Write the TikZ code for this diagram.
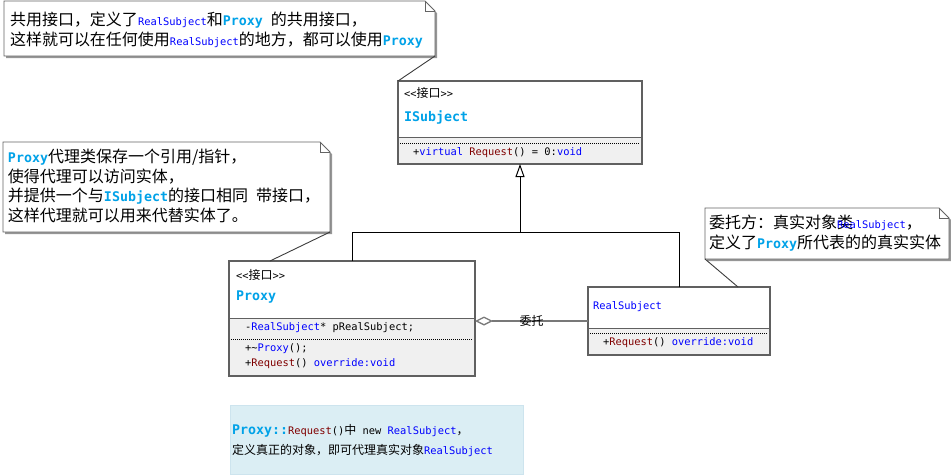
\documentclass[tikz,border=0pt]{standalone}
\usepackage{fontspec}
\setmainfont{Noto Sans CJK SC}
\setmonofont{DejaVu Sans Mono}
\usetikzlibrary{arrows.meta,fit}
\definecolor{cyanc}{RGB}{0,162,232}
\definecolor{bluec}{RGB}{0,0,255}
\definecolor{redc}{RGB}{128,0,0}
\definecolor{classgray}{RGB}{96,96,96}
\definecolor{compfill}{RGB}{240,240,240}
\definecolor{notegray}{RGB}{100,100,100}
\definecolor{shadowgray}{RGB}{150,150,150}
\definecolor{tailgray}{RGB}{60,60,60}
\definecolor{agggray}{RGB}{120,120,120}
\definecolor{infofill}{RGB}{219,238,244}
\definecolor{infoborder}{RGB}{205,228,238}
\newcommand\notesz{\fontsize{16}{20}\selectfont}
\newcommand\zhsz{\fontsize{12}{14}\selectfont}
\newcommand\codesz{\fontsize{10.4}{12}\selectfont\ttfamily}
\newcommand\cyb[1]{{\fontsize{13.3}{16}\selectfont\ttfamily\bfseries\color{cyanc}#1}}
\newcommand\rsb[1]{{\codesz\color{bluec}#1}}
\newcommand\stereo{{\codesz <<}{\zhsz 接口}{\codesz >>}}
\newcommand\drawnote[5]{%
  \fill[notesh] (#2+2,#3+2) -- (#4+2-10,#3+2) -- (#4+2,#3+12) -- (#4+2,#5+2) -- (#2+2,#5+2) -- cycle;
  \filldraw[notebd] (#2,#3) -- (#4-10,#3) -- (#4,#3+10) -- (#4,#5) -- (#2,#5) -- cycle;
  \draw[notebd,fill=none] (#4-10,#3) -- (#4-10,#3+10) -- (#4,#3+10);
  \node[fit={(#2,#3) (#4,#5)}, inner sep=0pt, outer sep=0pt] (#1) {};
}
\tikzset{
  txt/.style={anchor=west, inner sep=0pt, outer sep=0pt},
  notebd/.style={draw=notegray, fill=white, line width=0.9pt},
  notesh/.style={fill=shadowgray},
  classbd/.style={draw=classgray, line width=1.3pt, inner sep=0pt, outer sep=0pt},
  divline/.style={draw=classgray, line width=1pt},
  dotline/.style={draw=black, line width=0.8pt, dash pattern=on 1pt off 1pt},
  tail/.style={draw=tailgray, line width=0.9pt},
  inh/.style={draw=black, line width=1pt},
  agg/.style={draw=agggray, line width=1.3pt},
}
\begin{document}
\begin{tikzpicture}[x=1pt,y=-1pt]
\useasboundingbox (0,0) rectangle (951,475);

% ---------- notes ----------
\drawnote{n1}{4}{1}{435}{56}
\node[txt, font=\notesz] (n1a) at (10,20) {共用接口，定义了\rsb{RealSubject}和\cyb{Proxy }的共用接口，};
\node[txt, font=\notesz] (n1b) at (10,40) {这样就可以在任何使用\rsb{RealSubject}的地方，都可以使用\cyb{Proxy}};

\drawnote{n2}{3}{142}{330}{232}
\node[txt, font=\notesz] (n2a) at (8,157) {\cyb{Proxy}代理类保存一个引用/指针，};
\node[txt, font=\notesz] (n2b) at (8,176.5) {使得代理可以访问实体，};
\node[txt, font=\notesz] (n2c) at (8,196) {并提供一个与\cyb{ISubject}的接口相同\hspace{8pt}带接口，};
\node[txt, font=\notesz] (n2d) at (8,215.5) {这样代理就可以用来代替实体了。};

\drawnote{n3}{705}{208}{949}{259}
\node[txt, font=\notesz] (n3a) at (709,223) {委托方：真实对象\rlap{类}\rsb{RealSubject}，};
\node[txt, font=\notesz] (n3b) at (709,243) {定义了\cyb{Proxy}所代表的的真实实体};

% ---------- ISubject ----------
\fill[white] (398,81) rectangle (642,137);
\fill[compfill] (398,137) rectangle (642,164);
\draw[divline] (398,137) -- (642,137);
\draw[dotline] (400,143) -- (640,143);
\node[classbd, fit={(398,81) (642,164)}] (isub) {};
\node[txt] (isub1) at (404,93) {\stereo};
\node[txt] (isub2) at (404,117) {\cyb{ISubject}};
\node[txt] (isub3) at (413,153) {\codesz +\textcolor{bluec}{virtual} \textcolor{redc}{Request}() = 0:\textcolor{bluec}{void}};

% ---------- Proxy ----------
\fill[white] (229,261) rectangle (475,318);
\fill[compfill] (229,318) rectangle (475,376);
\draw[divline] (229,318) -- (475,318);
\draw[dotline] (231,339) -- (473,339);
\node[classbd, fit={(229,261) (475,376)}] (proxy) {};
\node[txt] (px1) at (236,275) {\stereo};
\node[txt] (px2) at (236,297) {\cyb{Proxy}};
\node[txt] (px3) at (245,328) {\codesz -\textcolor{bluec}{RealSubject}* pRealSubject;};
\node[txt] (px4) at (245,349) {\codesz +\textasciitilde\textcolor{bluec}{Proxy}();};
\node[txt] (px5) at (245,364) {\codesz +\textcolor{redc}{Request}() \textcolor{bluec}{override:void}};

% ---------- RealSubject ----------
\fill[white] (588,287) rectangle (770,328);
\fill[compfill] (588,328) rectangle (770,355);
\draw[divline] (588,328) -- (770,328);
\draw[dotline] (590,333) -- (768,333);
\node[classbd, fit={(588,287) (770,355)}] (real) {};
\node[txt] (rs1) at (593,307) {\rsb{RealSubject}};
\node[txt] (rs2) at (603,343) {\codesz +\textcolor{redc}{Request}() \textcolor{bluec}{override:void}};

% ---------- info box ----------
\node[fit={(230,405) (523,474)}, inner sep=0pt, fill=infofill, draw=infoborder, line width=0.8pt] (info) {};
\node[txt] (b1) at (232,431) {\cyb{Proxy::}{\codesz\color{redc}Request}{\codesz ()}{\zhsz 中}{\codesz\ new \color{bluec}RealSubject}{\zhsz ，}};
\node[txt] (b2) at (232,450) {{\zhsz 定义真正的对象，即可代理真实对象}\rsb{RealSubject}};

% ---------- connectors ----------
\coordinate (join) at (520,232);
\draw[inh] (proxy.north) |- (join);
\draw[inh] (real.north) |- (join);
\draw[inh, -{Triangle[open, length=13pt, width=9pt]}] (join) -- (isub.south);

\draw[agg, {Diamond[open, length=18pt, width=9pt]}-] (real.west -| proxy.east) -- (real.west)
  node[midway, font=\zhsz, inner sep=0pt] (lbl) {委托};

\coordinate (ptail) at (270,261);
\coordinate (rtail) at (738,287);
\draw[tail] (n1.south east) -- (isub.north west);
\draw[tail] (n2.south east) -- (ptail);
\draw[tail] (n3.south west) -- (rtail);
\end{tikzpicture}
\end{document}
